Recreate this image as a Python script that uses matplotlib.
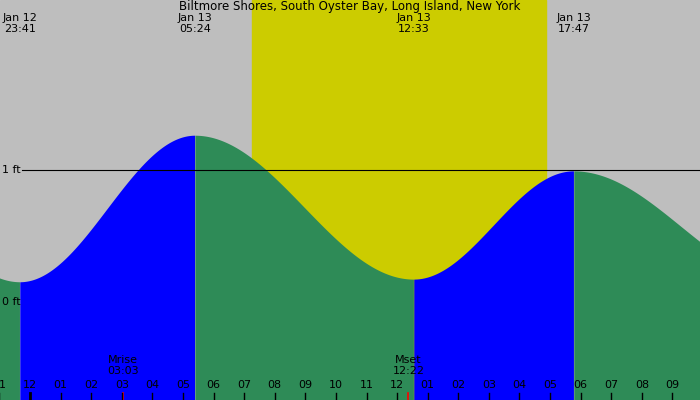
import numpy as np
import matplotlib.pyplot as plt

# hours relative to midnight Jan 13
ext_hours = [-6.6, -0.32, 5.40, 12.55, 17.78, 24.8]
ext_heights = [1.22, 0.15, 1.26, 0.17, 0.99, 0.15]
top_labels = [("Jan 12", "23:41", -0.32), ("Jan 13", "05:24", 5.40),
              ("Jan 13", "12:33", 12.55), ("Jan 13", "17:47", 17.78)]
sunrise, sunset = 7.26, 16.87
moon_events = [("Mrise", "03:03", 3.05), ("Mset", "12:22", 12.37)]
title = "Biltmore Shores, South Oyster Bay, Long Island, New York"

x0, x1 = -0.98, 21.9
y0, y1 = -0.742, 2.288

fig = plt.figure(figsize=(7, 4), dpi=100)
ax = fig.add_axes([0, 0, 1, 1])
ax.set_xlim(x0, x1)
ax.set_ylim(y0, y1)
ax.axis("off")
ax.axvspan(x0, x1, color="#bebebe", zorder=0)
ax.axvspan(sunrise, sunset, color="#cccc00", zorder=1)

# cosine interpolation between extremes
t = np.linspace(x0, x1, 2000)
h = np.zeros_like(t)
rising = np.zeros_like(t, dtype=bool)
for i in range(len(ext_hours) - 1):
    a, b = ext_hours[i], ext_hours[i + 1]
    m = (t >= a) & (t <= b)
    f = (t[m] - a) / (b - a)
    ha, hb = ext_heights[i], ext_heights[i + 1]
    h[m] = ha + (hb - ha) * (1 - np.cos(np.pi * f)) / 2
    rising[m] = hb > ha
ax.fill_between(t, y0, h, where=rising, color="#0000ff", lw=0, zorder=2)
ax.fill_between(t, y0, h, where=~rising, color="#2e8b57", lw=0, zorder=2)

ax.plot([-0.26, x1], [1, 1], color="black", lw=0.8, zorder=3)
ax.text(-0.9, 1, "1 ft", va="center", ha="left", fontsize=8, zorder=4)
ax.text(-0.9, 0, "0 ft", va="center", ha="left", fontsize=8, zorder=4)

ax.text((x0 + x1) / 2, 2.29, title, ha="center", va="top", fontsize=8.5)
for d, tm, hr in top_labels:
    ax.text(hr, 2.19, d + "\n" + tm, ha="center", va="top", fontsize=8, linespacing=1.1)
for name, tm, hr in moon_events:
    ax.text(hr, -0.48, name + "\n" + tm, ha="center", va="center", fontsize=8, linespacing=1.1)
    ax.plot([hr, hr], [y0, y0 + 0.05], color="red", lw=1.2, zorder=4)

for k in range(-1, 22):
    lab = "%02d" % (k % 12 if k % 12 else 12)
    ax.text(k, -0.63, lab, ha="center", va="center", fontsize=8)
    ax.plot([k, k], [y0, y0 + 0.05], color="black", lw=2 if k == 0 else 1, zorder=4)

fig.savefig("out.png")
